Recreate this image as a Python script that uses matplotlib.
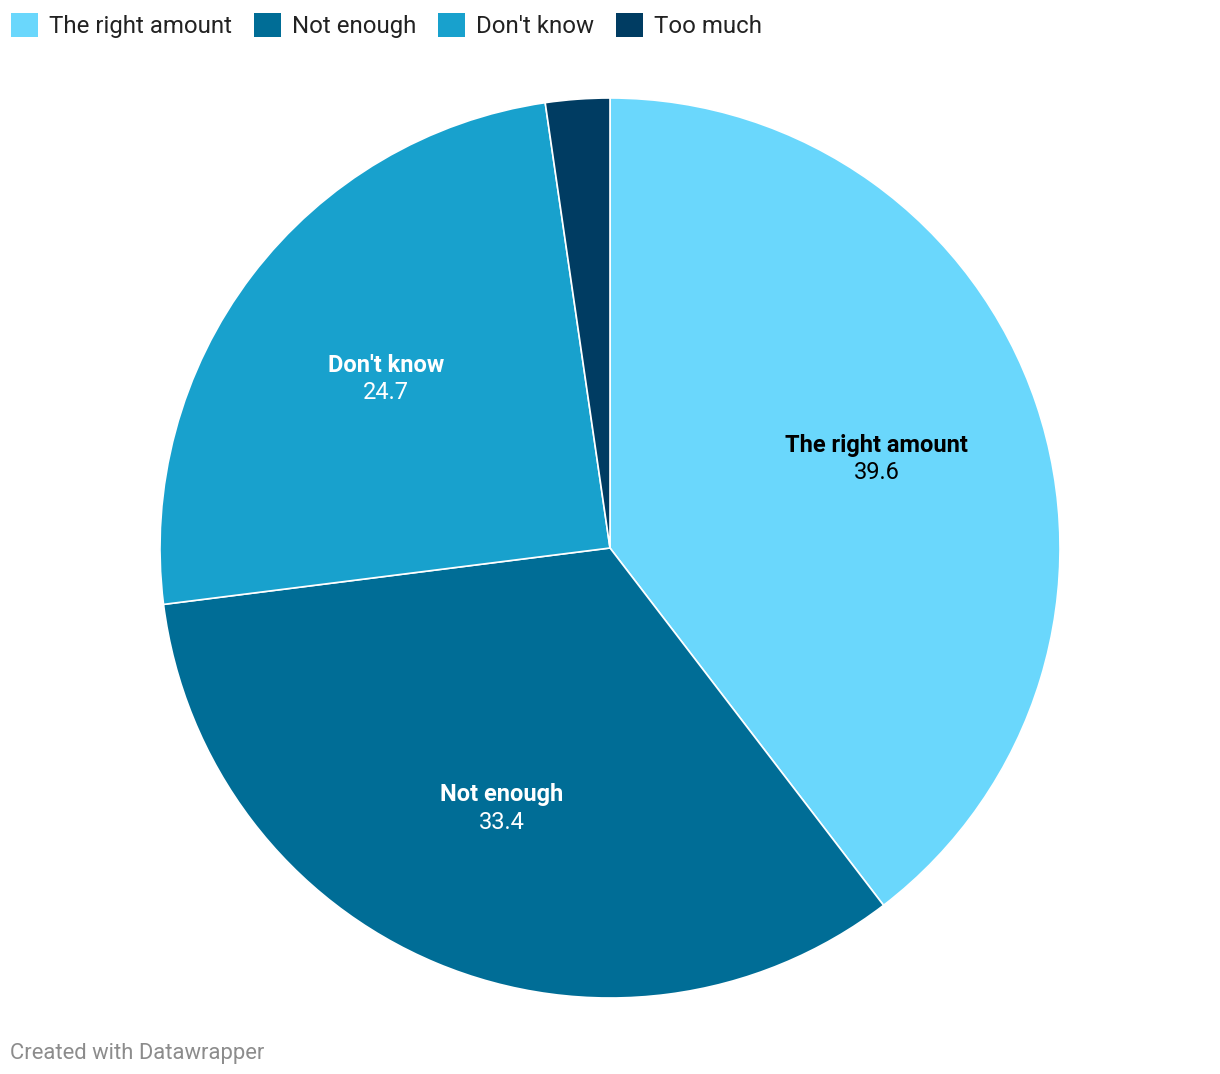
import numpy as np
import matplotlib
matplotlib.use('Agg')
import matplotlib.pyplot as plt
from matplotlib.patches import Patch

plt.rcParams['font.family'] = ['Roboto', 'DejaVu Sans']

categories = ['The right amount', 'Not enough', "Don't know", 'Too much']
values = [39.6, 33.4, 24.7, 2.3]
colors = ['#6ad7fc', '#006d96', '#18a1cd', '#003c62']
label_colors = ['#000000', '#ffffff', '#ffffff', None]

W, H = 1220, 1074
fig = plt.figure(figsize=(W / 100, H / 100), dpi=100)

# pie centred at (610, 548) px, radius 450 px
cx, cy, r = 610, 548, 450
ax = fig.add_axes([(cx - r) / W, (H - cy - r) / H, 2 * r / W, 2 * r / H])
wedges, _ = ax.pie(values, colors=colors, startangle=90, counterclock=False,
                   radius=1, wedgeprops=dict(edgecolor='white', linewidth=1.2))
ax.set_xlim(-1, 1)
ax.set_ylim(-1, 1)
ax.set_aspect('equal')
ax.axis('off')

# inner labels
total = sum(values)
cum = 0
for name, v, lc in zip(categories, values, label_colors):
    mid = 90 - (cum + v / 2) / total * 360
    cum += v
    if lc is None:
        continue
    x = 0.625 * np.cos(np.radians(mid))
    y = 0.625 * np.sin(np.radians(mid))
    ax.text(x, y + 0.028, name, ha='center', va='center', fontsize=17,
            fontweight='bold', color=lc)
    ax.text(x, y - 0.033, f'{v:.1f}', ha='center', va='center', fontsize=17,
            color=lc)

# legend across the top
handles = [Patch(facecolor=c, edgecolor='none') for c in colors]
fig.legend(handles, categories, loc='upper left',
           bbox_to_anchor=(0.0, 1.0 - 2 / H),
           ncol=4, frameon=False, fontsize=17.3, handlelength=1.12,
           handleheight=1.15, handletextpad=0.46, columnspacing=0.92,
           borderaxespad=0.15, borderpad=0.3, labelcolor='#222222')

fig.text(10 / W, 1 - 1053 / H, 'Created with Datawrapper', ha='left',
         va='center', fontsize=15.8, color='#8c8c8c')

fig.savefig('out.png', dpi=100)
